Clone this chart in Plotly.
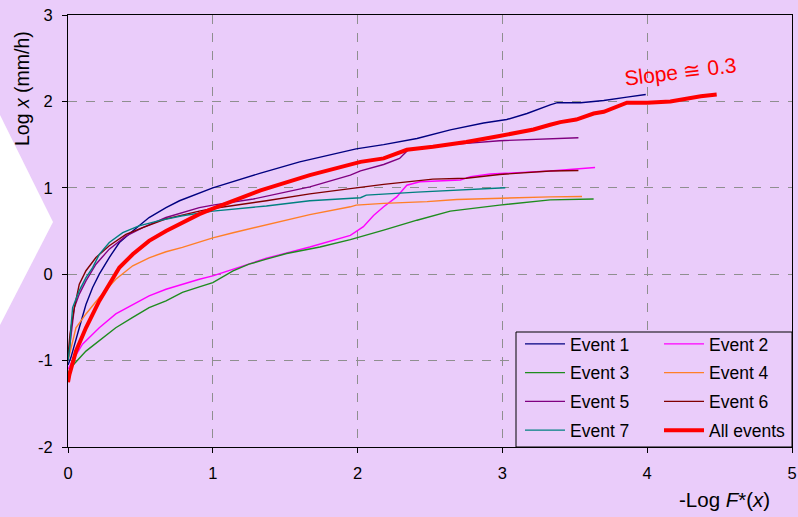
import plotly.graph_objects as go

# ---------------- data ----------------
e1_x = [0.0, 0.02, 0.078, 0.124, 0.17, 0.216, 0.285, 0.355, 0.447, 0.56, 0.677, 0.77, 1.0, 1.33, 1.6, 1.99, 2.18, 2.41, 2.64, 2.87, 3.03, 3.17, 3.33, 3.38, 3.54, 3.70, 3.86, 3.99]
e1_y = [-1.05, -0.965, -0.62, -0.35, -0.154, 0.0, 0.193, 0.367, 0.50, 0.656, 0.77, 0.85, 1.0, 1.17, 1.30, 1.45, 1.50, 1.57, 1.67, 1.75, 1.79, 1.86, 1.96, 1.985, 1.985, 2.01, 2.05, 2.08]

e2_x = [0.0, 0.032, 0.10, 0.216, 0.33, 0.447, 0.56, 0.677, 0.79, 0.907, 1.0, 1.14, 1.25, 1.37, 1.67, 1.88, 1.95, 2.04, 2.11, 2.18, 2.27, 2.34, 2.43, 2.71, 2.78, 2.915, 3.33, 3.64]
e2_y = [-1.1, -1.0, -0.81, -0.62, -0.46, -0.35, -0.25, -0.174, -0.116, -0.058, -0.02, 0.058, 0.116, 0.185, 0.315, 0.41, 0.45, 0.55, 0.68, 0.78, 0.895, 1.03, 1.07, 1.09, 1.13, 1.16, 1.195, 1.235]

e3_x = [0.0, 0.02, 0.124, 0.216, 0.33, 0.447, 0.56, 0.677, 0.79, 0.907, 1.0, 1.14, 1.25, 1.37, 1.51, 1.74, 1.95, 2.18, 2.41, 2.64, 2.98, 3.33, 3.63]
e3_y = [-1.15, -1.08, -0.89, -0.77, -0.62, -0.50, -0.386, -0.31, -0.21, -0.147, -0.097, 0.039, 0.116, 0.174, 0.24, 0.315, 0.40, 0.51, 0.625, 0.73, 0.80, 0.86, 0.87]

e4_x = [0.0, 0.01, 0.055, 0.124, 0.216, 0.33, 0.447, 0.56, 0.677, 0.79, 1.0, 1.14, 1.37, 1.67, 1.95, 1.99, 2.18, 2.48, 2.685, 2.98, 3.33, 3.55]
e4_y = [-1.0, -0.93, -0.62, -0.46, -0.27, -0.058, 0.097, 0.19, 0.26, 0.31, 0.42, 0.48, 0.57, 0.69, 0.78, 0.80, 0.82, 0.84, 0.865, 0.88, 0.895, 0.90]

e5_x = [0.0, 0.01, 0.02, 0.044, 0.078, 0.124, 0.193, 0.285, 0.40, 0.516, 0.677, 0.907, 1.0, 1.28, 1.67, 1.95, 2.02, 2.18, 2.29, 2.35, 2.41, 2.64, 2.98, 3.33, 3.525]
e5_y = [-1.0, -0.85, -0.69, -0.386, -0.23, -0.077, 0.116, 0.29, 0.44, 0.54, 0.656, 0.77, 0.80, 0.87, 1.01, 1.146, 1.195, 1.27, 1.34, 1.44, 1.455, 1.50, 1.545, 1.57, 1.58]

e6_x = [0.0, 0.008, 0.014, 0.044, 0.078, 0.124, 0.193, 0.285, 0.40, 0.516, 0.677, 0.907, 1.0, 1.37, 1.67, 1.95, 2.18, 2.52, 2.75, 2.98, 3.33, 3.525]
e6_y = [-0.95, -0.80, -0.69, -0.386, -0.116, 0.04, 0.193, 0.33, 0.46, 0.54, 0.64, 0.73, 0.76, 0.85, 0.93, 0.99, 1.04, 1.10, 1.11, 1.154, 1.195, 1.20]

e7_x = [0.0, 0.015, 0.02, 0.032, 0.078, 0.124, 0.17, 0.216, 0.285, 0.378, 0.49, 0.63, 0.79, 1.0, 1.37, 1.67, 2.02, 2.06, 2.41, 2.75, 3.02]
e7_y = [-1.0, -0.80, -0.62, -0.386, -0.19, -0.04, 0.077, 0.23, 0.367, 0.48, 0.56, 0.62, 0.676, 0.73, 0.79, 0.85, 0.885, 0.915, 0.95, 0.98, 1.0]

all_x = [0.0, 0.01, 0.055, 0.124, 0.216, 0.286, 0.355, 0.447, 0.56, 0.677, 0.79, 0.907, 1.0, 1.33, 1.67, 2.02, 2.18, 2.34, 2.52, 2.75, 2.98, 3.215, 3.33, 3.40, 3.51, 3.63, 3.70, 3.86, 4.0, 4.16, 4.37, 4.48]
all_y = [-1.25, -1.16, -0.89, -0.62, -0.31, -0.116, 0.077, 0.23, 0.386, 0.50, 0.60, 0.695, 0.76, 0.97, 1.146, 1.30, 1.34, 1.44, 1.474, 1.53, 1.60, 1.675, 1.73, 1.76, 1.79, 1.86, 1.88, 1.985, 1.985, 2.0, 2.06, 2.08]

series_names = ["Event 1", "Event 2", "Event 3", "Event 4", "Event 5", "Event 6", "Event 7", "All events"]
series_x = [e1_x, e2_x, e3_x, e4_x, e5_x, e6_x, e7_x, all_x]
series_y = [e1_y, e2_y, e3_y, e4_y, e5_y, e6_y, e7_y, all_y]
series_colors = ["#000080", "#FF00FF", "#1E8C1E", "#FF7F27", "#800080", "#800000", "#008080", "#FF0000"]
series_widths = [1.4, 1.4, 1.4, 1.4, 1.4, 1.4, 1.4, 4]
series_legend = ["legend", "legend2", "legend", "legend2", "legend", "legend2", "legend", "legend2"]

x_ticks = [0, 1, 2, 3, 4, 5]
x_ticktext = ["0", "1", "2", "3", "4", "5"]
y_ticks = [-2, -1, 0, 1, 2, 3]
y_ticktext = ["-2", "-1", "0", "1", "2", "3"]

# ---------------- layout geometry ----------------
W, H = 798, 517
ML, MR, MT, MB = 68, 6, 15, 70
PW, PH = W - ML - MR, H - MT - MB
BG = "#EACCFA"
FONT = "Liberation Sans, Arial, sans-serif"


def px(x, y):
    return (x - ML) / PW, (H - MB - y) / PH


fig = go.Figure()
for i, name in enumerate(series_names):
    fig.add_trace(go.Scatter(
        x=series_x[i], y=series_y[i], mode="lines", name=name,
        line=dict(color=series_colors[i], width=series_widths[i]),
        legend=series_legend[i], legendgroup=name,
    ))

# white chevron at left
cx = [px(0, 115), px(53, 222), px(0, 325)]
chev_path = "M {} {} L {} {} L {} {} Z".format(
    -ML / PW, cx[0][1], cx[1][0], cx[1][1], -ML / PW, cx[2][1])
shapes = [
    dict(type="path", xref="paper", yref="paper", path=chev_path,
         fillcolor="white", line=dict(width=0), layer="below"),
]
lx0, ly0 = px(516, 332)
lx1, ly1 = px(792, 447)
shapes.append(dict(type="rect", xref="paper", yref="paper", x0=lx0, y0=ly1, x1=lx1, y1=ly0,
                   fillcolor=BG, line=dict(color="black", width=1), layer="above"))

leg_common = dict(bgcolor="rgba(0,0,0,0)", borderwidth=0, font=dict(family=FONT, size=17.5, color="black"),
                  yanchor="top", xanchor="left", traceorder="grouped", tracegroupgap=3, itemwidth=40)
l1x, l1y = px(520, 326)
l2x, _ = px(659, 326)

sx, sy = px(680, 71)
tx, ty = px(724, 499)
yx, yy = px(22, 89)

fig.update_layout(
    width=W, height=H,
    margin=dict(l=ML, r=MR, t=MT, b=MB, autoexpand=False),
    paper_bgcolor=BG, plot_bgcolor=BG,
    font=dict(family=FONT, size=16.5, color="black"),
    showlegend=True,
    legend=dict(x=l1x, y=l1y, **leg_common),
    legend2=dict(x=l2x, y=l1y, **leg_common),
    shapes=shapes,
    annotations=[
        dict(text="Slope ≅ 0.3", x=sx, y=sy, xref="paper", yref="paper", showarrow=False,
             xanchor="center", yanchor="middle",
             textangle=-7, font=dict(family=FONT, size=21, color="#FF0000")),
        dict(text="-Log <i>F</i>*(<i>x</i>)", x=tx, y=ty, xref="paper", yref="paper", showarrow=False,
             xanchor="center", yanchor="middle",
             font=dict(family=FONT, size=20.5, color="black")),
        dict(text="Log <i>x</i> (mm/h)", x=yx, y=yy, xref="paper", yref="paper", showarrow=False,
             xanchor="center", yanchor="middle",
             textangle=-90, font=dict(family=FONT, size=19.5, color="black")),
    ],
    xaxis=dict(range=[0, 5], tickvals=x_ticks, ticktext=x_ticktext, showgrid=True,
               gridcolor="#8f8f8f", griddash="dash", gridwidth=1,
               showline=True, linecolor="black", linewidth=1, mirror=True,
               ticks="outside", ticklen=5, tickcolor="black", zeroline=False,
               ticklabelstandoff=6),
    yaxis=dict(range=[-2, 3], tickvals=y_ticks, ticktext=y_ticktext, showgrid=True,
               gridcolor="#8f8f8f", griddash="dash", gridwidth=1,
               showline=True, linecolor="black", linewidth=1, mirror=True,
               ticks="outside", ticklen=5, tickcolor="black", zeroline=False,
               ticklabelstandoff=6),
)

fig.write_html("out.html")
